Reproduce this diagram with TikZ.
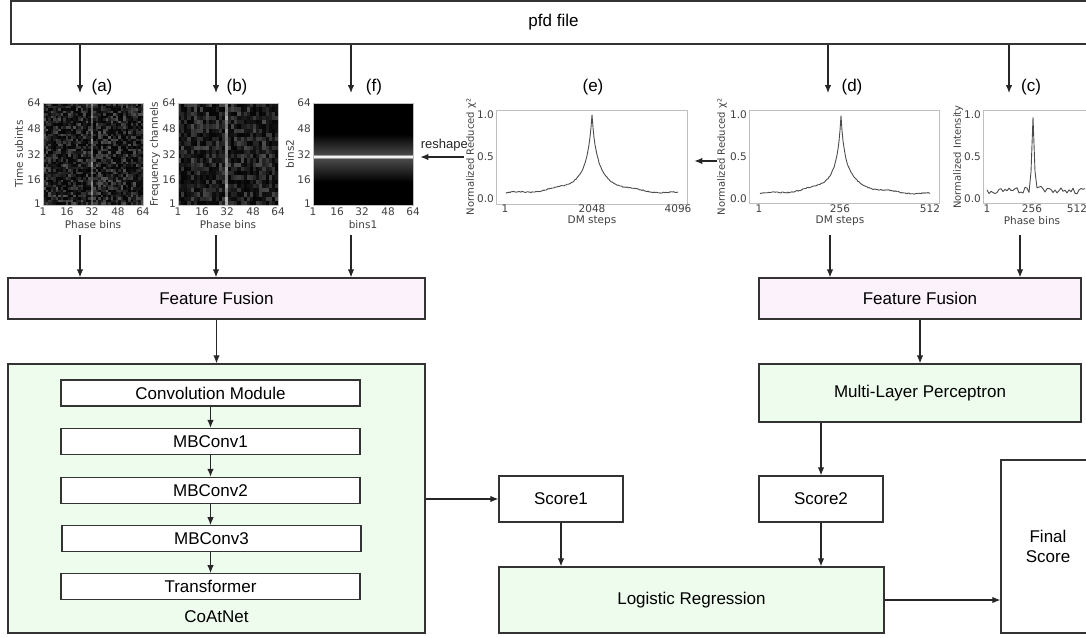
\documentclass[tikz,border=0pt]{standalone}
\usepackage{fontspec}
\setmainfont{Liberation Sans}
\newfontfamily\plotfont{DejaVu Sans}
\usepackage{tikz}
\usetikzlibrary{positioning,arrows.meta}
\definecolor{fusepink}{RGB}{252,242,252}
\definecolor{mintgreen}{RGB}{238,252,238}

\begin{document}
\begin{tikzpicture}[x=1pt,y=-1pt,>={Latex[length=8pt,width=6.5pt]},font=\fontsize{17}{20}\selectfont]
    \tikzstyle{block}=[draw=black!80,line width=1.3pt,inner sep=0pt,align=center]
    \tikzstyle{fuse}=[block,fill=fusepink,minimum height=41pt]
    \tikzstyle{stage}=[block,line width=1.1pt,fill=white,minimum width=299pt,minimum height=26pt]
    \tikzstyle{score}=[block,fill=white,minimum width=124pt,minimum height=46pt]
    \tikzstyle{plotframe}=[draw=black!25,line width=0.8pt,inner sep=0pt]
    \tikzstyle{ticklab}=[font=\plotfont\fontsize{10.5}{12}\selectfont,text=black!75,inner sep=1pt]
    \tikzstyle{axlab}=[font=\plotfont\fontsize{10}{12}\selectfont,text=black!75,inner sep=1pt]
    \tikzstyle{trace}=[black!70,line width=0.9pt,line join=round]
    \tikzstyle{conn}=[->,line width=1.1pt,black!85]

    \useasboundingbox (0,0) rectangle (1086,637);
    \clip (0,0) rectangle (1086,637);

    \node[block,minimum width=1085pt,minimum height=43pt] (pfd) at (553.5,22.5) {pfd file};

    \foreach \n/\x in {a/80,b/216,f/351,d/828,c/1009}{
        \coordinate (in\n) at (\x,93);
        \draw[conn] (pfd.south -| in\n) -- (in\n);
    }
    \node (la) at (102,87) {(a)};
    \node (lb) at (237,87) {(b)};
    \node (lf) at (374,87) {(f)};
    \node (le) at (593,87) {(e)};
    \node (ld) at (852,87) {(d)};
    \node (lc) at (1031,87) {(c)};

    % time-phase and frequency-phase images
    \pgfmathsetseed{3}
    \foreach \i in {0,...,39}
        \foreach \j in {0,...,39}{
            \pgfmathsetmacro\g{\i==19 ? 30+30*rnd : 2+32*rnd^2}
            \fill[white!\g!black] ({43+\i*2.5},{103+\j*2.55}) rectangle ++(2.6,2.65);
        }
    \pgfmathsetseed{8}
    \foreach \i in {0,...,31}
        \foreach \j in {0,...,23}{
            \pgfmathsetmacro\g{\i==15 ? 45+25*rnd : 2+28*rnd^1.6}
            \fill[white!\g!black] ({178+\i*3.125},{103+\j*4.25}) rectangle ++(3.3,4.4);
        }
    \fill[black] (313,103) rectangle (413,205);
    \shade[top color=black,bottom color=white!30!black] (313,134) rectangle (413,156);
    \shade[top color=white!30!black,bottom color=black] (313,158) rectangle (413,182);
    \draw[white!60!black,line width=3.5pt] (313,157) -- (413,157);
    \draw[white!95!black,line width=1.6pt] (313,157) -- (413,157);

    \node[plotframe,minimum width=100pt,minimum height=102pt] (fa) at (93,154) {};
    \node[plotframe,minimum width=100pt,minimum height=102pt] (fb) at (228,154) {};
    \node[plotframe,minimum width=100pt,minimum height=102pt] (ff) at (363,154) {};
    \foreach \p/\L in {a/43,b/178,f/313}
        \foreach \v/\d in {1/0,16/24,32/49,48/75,64/100}{
            \node[ticklab] (x\p\v) at (\L+\d,212) {\v};
            \node[ticklab,anchor=east] (y\p\v) at (\L-1,{204-\d*1.01}) {\v};
        }
    \node[ticklab] (xla) at (93,225) {Phase bins};
    \node[ticklab] (xlb) at (228,225) {Phase bins};
    \node[ticklab] (xlf) at (363,225) {bins1};
    \node[ticklab,rotate=90] (yla) at (19,154) {Time subints};
    \node[ticklab,rotate=90] (ylb) at (155,154) {Frequency channels};
    \node[ticklab,rotate=90] (ylf) at (290,154) {bins2};

    % chi-square curves and profile
    \node[plotframe,minimum width=191pt,minimum height=94pt] (fe) at (591.5,157) {};
    \node[plotframe,minimum width=190pt,minimum height=93pt] (fd) at (844,156.5) {};
    \node[plotframe,minimum width=117pt,minimum height=93pt] (fc) at (1041.5,156.5) {};
    \pgfmathsetseed{21}
    \draw[trace] plot[domain=506:678,samples=173]
        (\x,{199-84*(0.025+0.012*rnd+0.01*sin((\x-505)*9)+0.96/(1+abs(\x-592)/6.5)^1.2)});
    \draw[trace] plot[domain=760:930,samples=171]
        (\x,{199-84*(0.025+0.012*rnd+0.01*sin((\x-760)*9)+0.96/(1+abs(\x-841)/5.5)^1.2)});
    \draw[trace] plot[domain=987:1085,samples=50]
        (\x,{199-84*(0.1+0.04*rand+0.88*exp(-min(((\x-1033)/1.8)^2,9))+0.07*exp(-min(((\x-1041)/2)^2,9)))});
    \foreach \p/\L in {e/495,d/748,c/982}
        \foreach \v/\t/\y in {0/0.0/199,5/0.5/157,10/1.0/115}
            \node[ticklab,anchor=east] (y\p\v) at (\L,\y) {\t};
    \foreach \n/\t/\x in {e1/1/505,e2/2048/592,e3/4096/678,d1/1/759,d2/256/840,d3/512/930,c1/1/987,c2/256/1032,c3/512/1077}
        \node[ticklab] (x\n) at (\x,209) {\t};
    \node[ticklab] (xle) at (592,221) {DM steps};
    \node[ticklab] (xld) at (840,221) {DM steps};
    \node[ticklab] (xlc) at (1032,221) {Phase bins};
    \node[axlab,rotate=90] (yle) at (471,157) {Normalized Reduced χ²};
    \node[axlab,rotate=90] (yld) at (722,157) {Normalized Reduced χ²};
    \node[axlab,rotate=90] (ylc) at (958,157) {Normalized Intensity};

    \coordinate (rs) at (464,157);
    \draw[conn] (rs) -- ([xshift=7pt]rs -| ff.east) node[pos=0.45,above=2pt,font=\fontsize{13}{15}\selectfont] (rsl) {reshape};
    \coordinate (dm) at (717,161);
    \draw[conn] (dm) -- ([xshift=7pt]dm -| fe.east);

    % fusion branches
    \node[fuse,minimum width=417pt] (ffL) at (216.5,298.5) {Feature Fusion};
    \node[fuse,minimum width=322pt] (ffR) at (920,298.5) {Feature Fusion};
    \foreach \n/\x in {a/80,b/216,f/351}{
        \coordinate (out\n) at (\x,235);
        \draw[conn] (out\n) -- (out\n |- ffL.north);
    }
    \foreach \n/\x in {d/830,c/1020}{
        \coordinate (out\n) at (\x,235);
        \draw[conn] (out\n) -- (out\n |- ffR.north);
    }

    \node[block,fill=mintgreen,minimum width=417pt,minimum height=269pt] (coat) at (216.5,498.5) {};
    \node (coatl) at (216.5,617) {CoAtNet};
    \node[stage] (conv) at (210.5,393) {Convolution Module};
    \node[stage,below=21.3pt of conv] (mb1) {MBConv1};
    \node[stage,below=21.8pt of mb1] (mb2) {MBConv2};
    \node[stage,below=21.3pt of mb2,xshift=1pt] (mb3) {MBConv3};
    \node[stage,below=20.8pt of mb3,xshift=-1pt] (tr) {Transformer};
    \draw[conn] (conv) -- (mb1);
    \draw[conn] (mb1) -- (mb2);
    \draw[conn] (mb2) -- (mb2 |- mb3.north);
    \draw[conn] (mb3.south -| tr) -- (tr);

    \node[block,fill=mintgreen,minimum width=322pt,minimum height=58pt] (mlp) at (920,393) {Multi-Layer Perceptron};
    \node[score] (s1) at (561,499) {Score1};
    \node[score] (s2) at (821,499) {Score2};
    \node[block,fill=mintgreen,minimum width=385pt,minimum height=66pt] (lr) at (691.5,600) {Logistic Regression};
    \node[block,fill=white,minimum width=94pt,minimum height=173pt] (final) at (1048,546.5) {Final\\Score};

    \draw[conn] (ffL) -- (coat);
    \draw[conn] (ffR) -- (mlp);
    \draw[conn] (coat.east |- s1) -- (s1);
    \draw[conn] (mlp.south -| s2) -- (s2);
    \draw[conn] (s1) -- (s1 |- lr.north);
    \draw[conn] (s2) -- (s2 |- lr.north);
    \draw[conn] (lr) -- (final.west |- lr);
\end{tikzpicture}
\end{document}
